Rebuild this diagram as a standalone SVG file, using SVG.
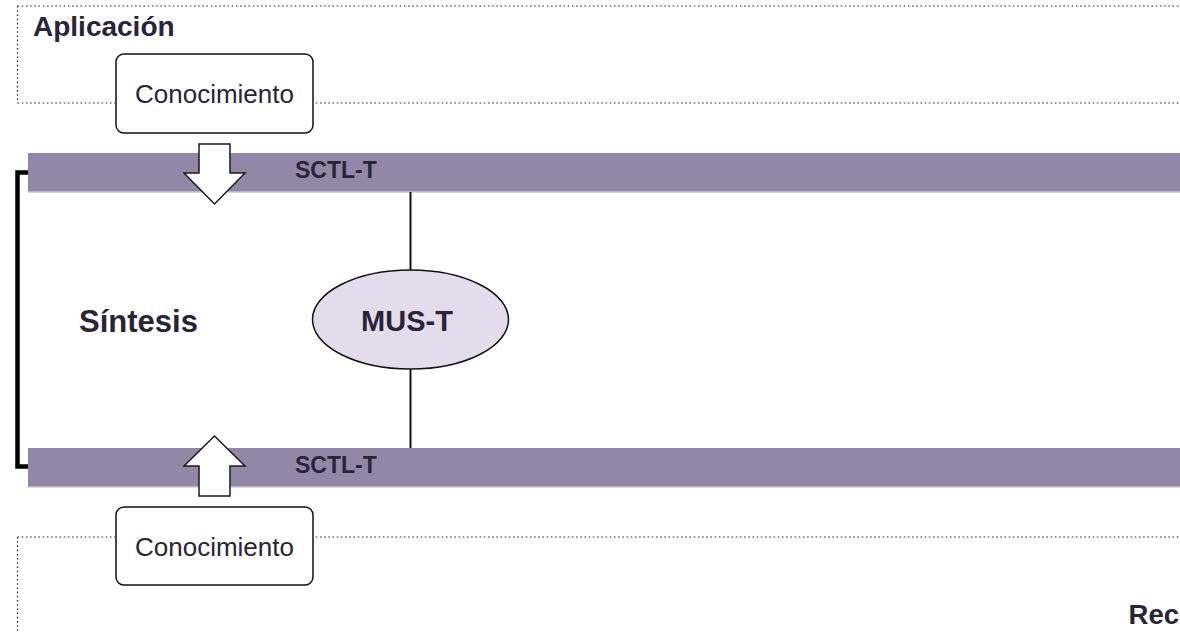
<svg xmlns="http://www.w3.org/2000/svg" width="1180" height="632" viewBox="0 0 1180 632">
  <style>
    .zone { fill: none; stroke: #2a2a2a; stroke-width: 1.2; stroke-dasharray: 1.6 2.6; }
    .bar { fill: #9486A6; }
    .bar-edge { stroke: #CDC4DA; stroke-width: 1.5; }
    .box { fill: #ffffff; stroke: #111111; stroke-width: 1.5; }
    .arrow { fill: #ffffff; stroke: #1a1a1a; stroke-width: 1.5; stroke-linejoin: miter; }
    .lbl { font-family: "Liberation Sans", Arial, sans-serif; fill: #2B2337; }
    .b { font-weight: bold; }
    .link { stroke: #111111; stroke-width: 2; fill: none; }
  </style>

  <rect width="1180" height="632" fill="#ffffff"/>

  <!-- upper layer zone -->
  <g id="zone-aplicacion">
    <path class="zone" d="M17.5,6 H1180 M17.5,6 V103 M17.5,103 H1180"/>
    <text class="lbl b" x="33" y="36" font-size="28">Aplicación</text>
  </g>

  <!-- lower layer zone -->
  <g id="zone-red">
    <path class="zone" d="M17.5,537 H1180 M17.5,537 V632"/>
    <text class="lbl b" x="1179" y="624" font-size="27.5" text-anchor="end">Rec</text>
  </g>

  <!-- service bars -->
  <g id="bar-top">
    <rect class="bar" x="28" y="153" width="1152" height="39"/>
    <line class="bar-edge" x1="28" y1="192" x2="1180" y2="192"/>
    <text class="lbl b" x="295" y="178" font-size="23">SCTL-T</text>
  </g>
  <g id="bar-bottom">
    <rect class="bar" x="28" y="448" width="1152" height="39"/>
    <line class="bar-edge" x1="28" y1="487" x2="1180" y2="487"/>
    <text class="lbl b" x="295" y="473" font-size="23">SCTL-T</text>
  </g>

  <!-- bracket spanning the synthesis layer -->
  <g id="bracket">
    <path d="M28,172.5 H17.5 V466.5 H28" fill="none" stroke="#000" stroke-width="4.5"/>
    <text class="lbl b" x="79" y="332" font-size="31">Síntesis</text>
  </g>

  <!-- connectors -->
  <g id="connectors">
    <line class="link" x1="410.5" y1="192" x2="410.5" y2="270"/>
    <line class="link" x1="410.5" y1="369" x2="410.5" y2="448"/>
    <polygon class="arrow" points="199,144 230,144 230,173 245,173 214.5,204 184,173 199,173"/>
    <polygon class="arrow" points="214.5,436 245,466 230,466 230,496 199,496 199,466 184,466"/>
  </g>

  <g id="mus-t">
    <ellipse cx="410.5" cy="319.5" rx="98" ry="49.5" fill="#E2DCEC" stroke="#111" stroke-width="1.5"/>
    <text class="lbl b" x="407" y="331" font-size="29" text-anchor="middle">MUS-T</text>
  </g>

  <g id="conocimiento-top">
    <rect class="box" x="116" y="54" width="197" height="79" rx="8"/>
    <text class="lbl" x="214.5" y="103" font-size="26" text-anchor="middle">Conocimiento</text>
  </g>

  <g id="conocimiento-bottom">
    <rect class="box" x="116" y="507" width="197" height="78" rx="8"/>
    <text class="lbl" x="214.5" y="556" font-size="26" text-anchor="middle">Conocimiento</text>
  </g>
</svg>
